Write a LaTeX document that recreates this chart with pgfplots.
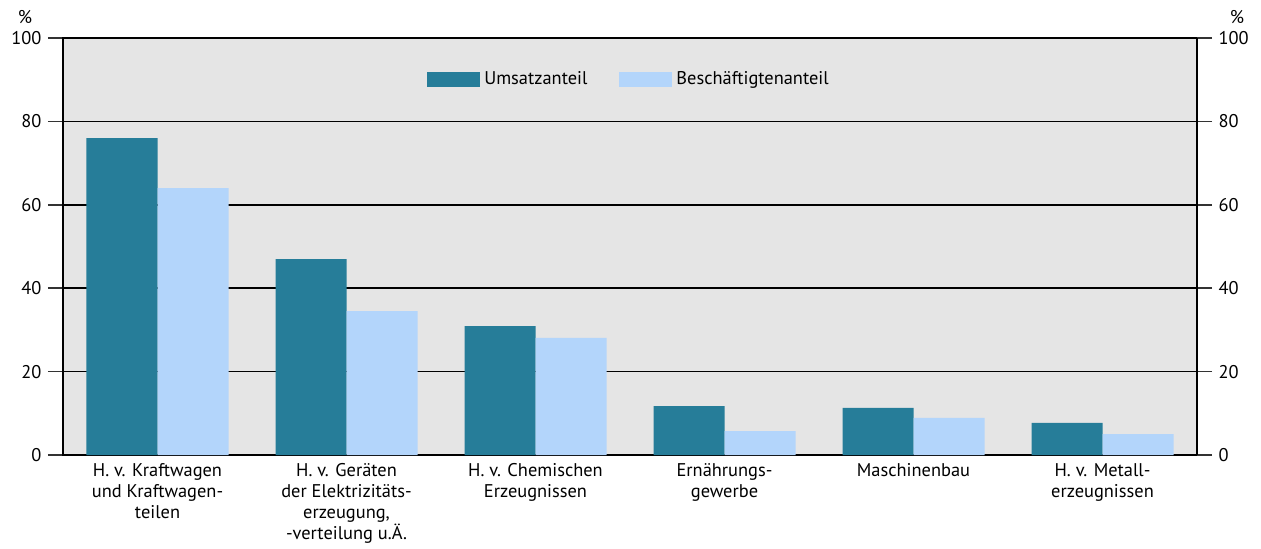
\documentclass[border=0pt]{standalone}
\usepackage{fontspec}
\setmainfont{PT Sans}
\usepackage{pgfplots}
\pgfplotsset{compat=1.18}

\definecolor{umsatz}{RGB}{38,125,153}
\definecolor{besch}{RGB}{179,213,251}
\definecolor{bg}{RGB}{229,229,229}

\begin{document}
\fontsize{9.2}{10.5}\selectfont
\begin{tikzpicture}
\pgfplotsset{
  common/.style={
    width=567pt, height=208.5pt, scale only axis,
    xmin=-0.5, xmax=5.5, ymin=0, ymax=100,
    ytick={0,20,40,60,80,100},
    ytick align=outside,
    major tick length=7.5pt,
    /pgf/number format/assume math mode=true,
    tick label style={font=\fontsize{9.2}{10.5}\selectfont},
    major tick style={line width=0.75pt, black!80},
  }
}
\begin{axis}[
  common,
  clip=false,
  axis background/.style={fill=bg},
  axis line style={line width=1pt},
  ybar=0pt, bar width=35.5pt,
  ytick pos=left,
  xtick={0,1,2,3,4,5},
  xtick align=inside,
  major x tick style={draw=none},
  xticklabels={
    {H. v. Kraftwagen\\und Kraftwagen-\\teilen},
    {H. v. Geräten\\der Elektrizitäts-\\erzeugung,\\-verteilung u.Ä.},
    {H. v. Chemischen\\Erzeugnissen},
    {Ernährungs-\\gewerbe},
    {Maschinenbau},
    {H. v. Metall-\\erzeugnissen}},
  xticklabel style={align=center, anchor=north, yshift=-1pt},
  ymajorgrids, grid style={black, line width=0.75pt},
  legend columns=2,
  legend style={at={(0.5,0.9)}, anchor=center, draw=none, fill=none,
    font=\fontsize{9.2}{10.5}\selectfont,
    /tikz/every even column/.append style={column sep=14pt}},
  legend image code/.code={\fill[#1] (0pt,-3.75pt) rectangle (26.5pt,3.75pt);},
]
\addplot[fill=umsatz, draw=none] coordinates {(0,76.0) (1,47.0) (2,30.9) (3,11.75) (4,11.3) (5,7.7)};
\addplot[fill=besch, draw=none] coordinates {(0,64.0) (1,34.5) (2,28.1) (3,5.75) (4,8.9) (5,5.0)};
\legend{Umsatzanteil, Beschäftigtenanteil}
\coordinate (bl) at (rel axis cs:0,0);
\coordinate (tr) at (rel axis cs:1,1);
\node[xshift=-19pt, yshift=10.5pt] at (rel axis cs:0,1) {\%};
\node[xshift=20pt, yshift=10.5pt] at (rel axis cs:1,1) {\%};
\end{axis}
\begin{axis}[
  common,
  hide x axis,
  axis y line*=right,
  axis line style={line width=1pt},
  ytick pos=right,
]
\addplot[draw=none] coordinates {(0,0)};
\end{axis}
\pgfresetboundingbox
\path[use as bounding box] ([shift={(-31.5pt,-46.5pt)}]bl) rectangle ([shift={(32pt,19pt)}]tr);
\end{tikzpicture}
\end{document}
